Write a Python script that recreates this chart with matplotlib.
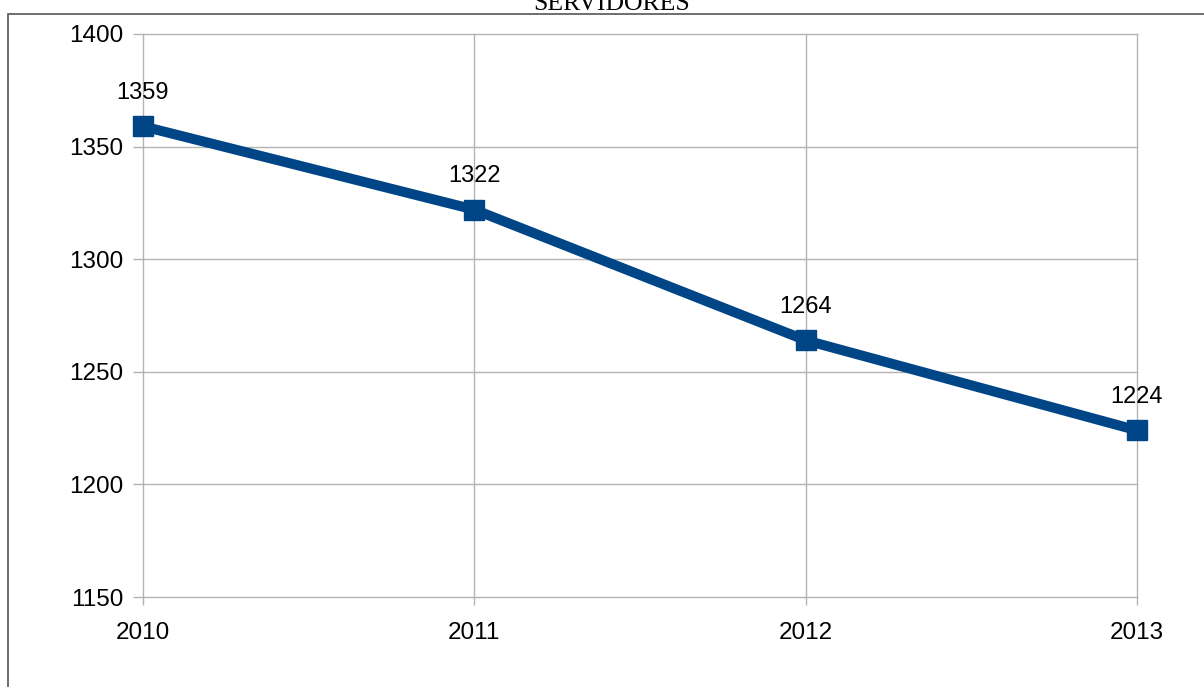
import matplotlib.pyplot as plt
from matplotlib.patches import Rectangle

# datos
anios = ['2010', '2011', '2012', '2013']
servidores = [1359, 1322, 1264, 1224]
y_ticks = [1150, 1200, 1250, 1300, 1350, 1400]

plt.rcParams['font.family'] = ['Liberation Sans', 'DejaVu Sans']

fig = plt.figure(figsize=(12.04, 6.87), dpi=100)
ax = fig.add_axes([143 / 1204, 1 - 597 / 687, (1137 - 143) / 1204, (597 - 34) / 687])

x = list(range(len(anios)))
ax.plot(x, servidores, color='#004586', linewidth=7.2, marker='s',
        markersize=14.5, solid_joinstyle='miter', zorder=3, clip_on=False)

for xi, v in zip(x, servidores):
    ax.annotate(str(v), (xi, v), xytext=(0, 16), textcoords='offset points',
                ha='center', va='bottom', fontsize=17, zorder=4)

ax.set_xlim(0, len(anios) - 1)
ax.set_ylim(1150, 1400)
ax.set_xticks(x)
ax.set_xticklabels(anios)
ax.set_yticks(y_ticks)
ax.grid(True, color='#b3b3b3', linewidth=1)
ax.set_axisbelow(True)
for ln in ax.get_xgridlines() + ax.get_ygridlines():
    ln.set_clip_on(False)
for s in ax.spines.values():
    s.set_visible(False)
ax.tick_params(axis='both', labelsize=17.5, color='#b3b3b3', width=1)
ax.tick_params(axis='y', length=7, pad=7)
ax.tick_params(axis='x', length=6, pad=12)

# borde exterior
fig.patches.append(Rectangle((8 / 1204, -0.1), 1.2, 1.1 - 14 / 687,
                             transform=fig.transFigure, fill=False,
                             edgecolor='#555555', linewidth=1.2))

fig.text(612 / 1204, 1 - 10 / 687, 'SERVIDORES', family='Liberation Serif',
         fontsize=18.5, ha='center', va='baseline')

fig.savefig('out.png', dpi=100)
